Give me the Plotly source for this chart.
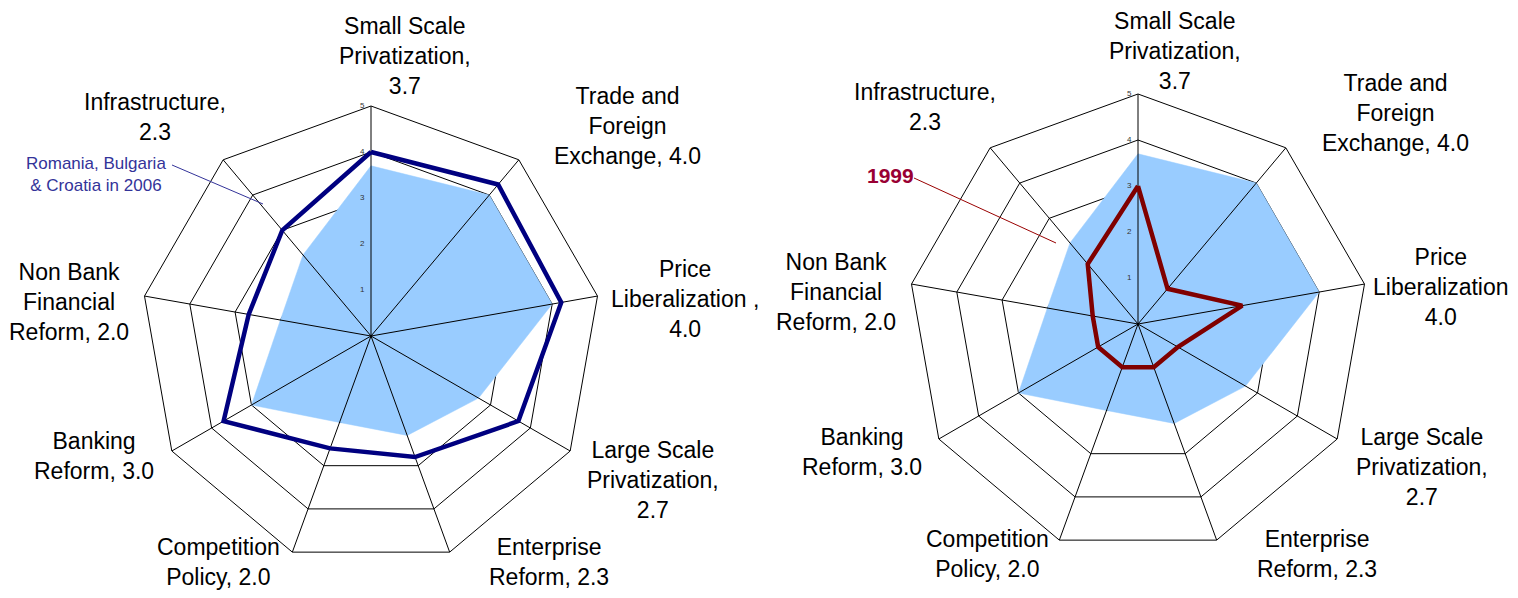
import plotly.graph_objects as go

# transition indicator categories, clockwise from the top
categories = [
    "Small Scale Privatization", "Trade and Foreign Exchange", "Price Liberalization",
    "Large Scale Privatization", "Enterprise Reform", "Competition Policy",
    "Banking Reform", "Non Bank Financial Reform", "Infrastructure",
]
# label text per category, {v} is the filled value
label_left = [
    "Small Scale<br>Privatization,<br>{v}", "Trade and<br>Foreign<br>Exchange, {v}",
    "Price<br>Liberalization ,<br>{v}", "Large Scale<br>Privatization,<br>{v}",
    "Enterprise<br>Reform, {v}", "Competition<br>Policy, {v}", "Banking<br>Reform, {v}",
    "Non Bank<br>Financial<br>Reform, {v}", "Infrastructure,<br>{v}",
]
label_right = [t.replace("Liberalization ,", "Liberalization") for t in label_left]

current = [3.7, 4.0, 4.0, 2.7, 2.3, 2.0, 3.0, 2.0, 2.3]
see_2006 = [4.0, 4.3, 4.2, 3.7, 2.8, 2.6, 3.7, 2.7, 3.0]
year_1999 = [3.0, 1.0, 2.3, 1.0, 1.0, 1.0, 1.0, 1.0, 1.7]
grid_levels = [1, 2, 3, 4]
tick_vals = [0, 1, 2, 3, 4, 5]
r_max = 5

PAGE_OFF = 8  # default body margin of the html page
W, H = 1518 - 2 * PAGE_OFF, 598 - 2 * PAGE_OFF
FONT = "Liberation Sans, Arial, sans-serif"
FILL = "#99ccff"


def px(x, y):
    # screen pixel -> paper fraction
    return (x - PAGE_OFF) / W, 1 - (y - PAGE_OFF) / H


def closed(seq):
    return list(seq) + [seq[0]]


fig = go.Figure()


def add_radar(sub, overlay, color):
    for lv in grid_levels:
        fig.add_trace(go.Scatterpolar(
            r=[lv] * (len(categories) + 1), theta=closed(categories), subplot=sub,
            mode="lines", line=dict(color="black", width=1), hoverinfo="skip"))
    fig.add_trace(go.Scatterpolar(
        r=closed(current), theta=closed(categories), subplot=sub,
        mode="lines", fill="toself", fillcolor=FILL,
        line=dict(color=FILL, width=0.5), name="current"))
    for c in categories:
        fig.add_trace(go.Scatterpolar(
            r=[0, r_max], theta=[c, c], subplot=sub,
            mode="lines", line=dict(color="black", width=1), hoverinfo="skip"))
    fig.add_trace(go.Scatterpolar(
        r=closed(overlay), theta=closed(categories), subplot=sub,
        mode="lines", line=dict(color=color, width=4.5)))
    # small scale numbers beside the top spoke
    fig.add_trace(go.Scatterpolar(
        r=tick_vals, theta=[categories[0]] * len(tick_vals), subplot=sub,
        mode="text", text=[f"{t}   " for t in tick_vals], textposition="middle left",
        textfont=dict(family=FONT, size=8, color="#333333"), hoverinfo="skip"))


add_radar("polar", see_2006, "#000080")
add_radar("polar2", year_1999, "#800000")


def polar_layout(cx, cy, R):
    x0, y0 = px(cx - R, cy + R)
    x1, y1 = px(cx + R, cy - R)
    return dict(
        domain=dict(x=[x0, x1], y=[y0, y1]),
        bgcolor="white",
        gridshape="linear",
        angularaxis=dict(
            categoryorder="array", categoryarray=categories,
            rotation=90, direction="clockwise",
            showticklabels=False, ticks="", showgrid=False,
            showline=True, linecolor="black", linewidth=1,
        ),
        radialaxis=dict(
            range=[0, r_max], angle=90, showticklabels=False,
            showgrid=False, showline=False, ticks="",
        ),
    )


annotations = []
left_pos = [(405, 56), (627, 126), (685, 299), (653, 480), (549, 562),
            (219, 562), (94, 456), (69, 302), (155, 117)]
right_pos = [(1175, 51), (1395, 113), (1441, 287), (1422, 467), (1317, 554),
             (987, 554), (862, 452), (836, 292), (925, 107)]
for labels, pos in ((label_left, left_pos), (label_right, right_pos)):
    for t, v, (x, y) in zip(labels, current, pos):
        ax, ay = px(x, y)
        annotations.append(dict(
            x=ax, y=ay, xref="paper", yref="paper", showarrow=False,
            xanchor="center", yanchor="middle",
            text=t.format(v=f"{v:.1f}"), align="center",
            font=dict(family=FONT, size=23, color="black")))

bx, by = px(96, 174)
annotations.append(dict(
    x=bx, y=by, xref="paper", yref="paper", showarrow=False,
    xanchor="center", yanchor="middle",
    text="Romania, Bulgaria<br>& Croatia in 2006", align="center",
    font=dict(family=FONT, size=17, color="#333399")))
rx, ry = px(890, 175)
annotations.append(dict(
    x=rx, y=ry, xref="paper", yref="paper", showarrow=False,
    xanchor="center", yanchor="middle",
    text="<b>1999</b>", font=dict(family=FONT, size=21, color="#990033")))

shapes = []
for (x0, y0, x1, y1, col) in ((172, 165, 263, 204, "#333399"),
                              (914, 178, 1056, 243, "#990000")):
    a0, b0 = px(x0, y0)
    a1, b1 = px(x1, y1)
    shapes.append(dict(type="line", xref="paper", yref="paper",
                       x0=a0, y0=b0, x1=a1, y1=b1, line=dict(color=col, width=1)))

fig.update_layout(
    width=W, height=H,
    margin=dict(l=0, r=0, t=0, b=0),
    paper_bgcolor="white",
    showlegend=False,
    polar=polar_layout(371, 336, 230),
    polar2=polar_layout(1138, 324, 230),
    annotations=annotations,
    shapes=shapes,
    font=dict(family=FONT),
)

fig.write_html("out.html")
